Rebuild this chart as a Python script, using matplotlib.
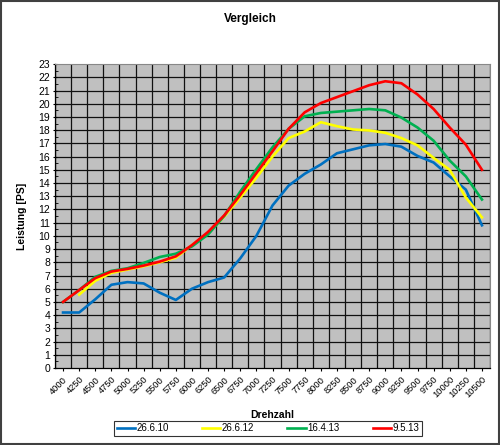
import numpy as np
import matplotlib
matplotlib.use("Agg")
import matplotlib.pyplot as plt
from matplotlib.patches import Rectangle

plt.rcParams['font.family'] = ['Liberation Sans', 'DejaVu Sans']

rpm = [4000, 4250, 4500, 4750, 5000, 5250, 5500, 5750, 6000, 6250, 6500, 6750, 7000,
       7250, 7500, 7750, 8000, 8250, 8500, 8750, 9000, 9250, 9500, 9750, 10000, 10250, 10500]

s_26_6_10 = [4.2, 4.2, 5.2, 6.3, 6.5, 6.4, 5.7, 5.15, 6.0, 6.5, 6.85, 8.3, 10.0,
             12.3, 13.8, 14.7, 15.4, 16.25, 16.55, 16.85, 16.95, 16.75, 16.05, 15.55, 14.5, 13.5, 10.8]
s_26_6_12 = [np.nan, 5.55, 6.6, 7.2, 7.45, 7.7, 8.0, 8.35, 9.3, 10.2, 11.45, 12.9, 14.4,
             16.0, 17.4, 17.9, 18.6, 18.3, 18.05, 17.98, 17.8, 17.4, 16.85, 15.9, 15.0, 12.9, 11.4]
s_16_4_13 = [5.0, 5.9, 6.9, 7.35, 7.55, 7.95, 8.4, 8.65, 9.2, 10.1, 11.5, 13.35, 15.05,
             16.7, 18.1, 19.05, 19.3, 19.4, 19.5, 19.6, 19.5, 18.95, 18.2, 17.2, 15.7, 14.5, 12.75]
s_9_5_13 = [5.0, 5.9, 6.8, 7.3, 7.5, 7.75, 8.05, 8.45, 9.3, 10.3, 11.55, 13.1, 14.75,
            16.4, 18.1, 19.35, 20.05, 20.5, 20.95, 21.4, 21.7, 21.55, 20.7, 19.6, 18.2, 16.9, 15.0]

labels = ['26.6.10', '26.6.12', '16.4.13', '9.5.13']
colors = ['#0070C0', '#FFFF00', '#00B050', '#FF0000']
series = [s_26_6_10, s_26_6_12, s_16_4_13, s_9_5_13]

fig = plt.figure(figsize=(5.0, 4.45), dpi=100)
fig.patches.append(Rectangle((0.002, 0.002), 0.996, 0.996, transform=fig.transFigure,
                             fill=False, edgecolor='#404040', linewidth=1.5))

ax = fig.add_axes([0.11, 0.173, 0.87, 0.683])
ax.set_facecolor('#C0C0C0')
x = np.arange(len(rpm))
for s, c, l in zip(series, colors, labels):
    ax.plot(x, s, color=c, linewidth=1.9, label=l, solid_joinstyle='round')

ax.set_xlim(-0.5, len(rpm) - 0.5)
ax.set_ylim(0, 23)
ax.set_yticks(np.arange(0, 24, 1))
ax.set_yticks(np.arange(0.5, 23, 1), minor=True)
ax.set_xticks(x)
ax.set_xticklabels([str(r) for r in rpm], rotation=45, ha='right', rotation_mode='anchor', fontsize=6.7)
ax.tick_params(axis='y', labelsize=7.5, length=3, direction='inout', pad=2)
ax.tick_params(axis='y', which='minor', length=2, direction='in')
ax.tick_params(axis='x', length=2, direction='out', pad=3)
for b in np.arange(-0.5, len(rpm), 1):
    ax.axvline(b, color='#111111', linewidth=0.9, zorder=0.5)
for yv in range(1, 23):
    ax.axhline(yv, color='#111111', linewidth=0.9, zorder=0.5)
ax.set_axisbelow(True)
for sp in ['top', 'right']:
    ax.spines[sp].set_color('#888888')
for sp in ['left', 'bottom']:
    ax.spines[sp].set_color('#000000')
    ax.spines[sp].set_linewidth(0.9)

ax.set_xlabel('Drehzahl', fontsize=7.5, fontweight='bold', labelpad=7)
ax.set_ylabel('Leistung [PS]', fontsize=7.5, fontweight='bold', labelpad=8)
fig.text(0.5, 0.957, 'Vergleich', ha='center', va='center', fontsize=8.5, fontweight='bold')

leg = fig.legend(loc='center', bbox_to_anchor=(0.536, 0.038), ncol=4, fontsize=7,
                 frameon=True, fancybox=False, edgecolor='#000000', handlelength=1.9,
                 columnspacing=3.4, handletextpad=0.15, borderpad=0.25, borderaxespad=0)
leg.get_frame().set_linewidth(0.8)

fig.savefig('out.png', dpi=100)
